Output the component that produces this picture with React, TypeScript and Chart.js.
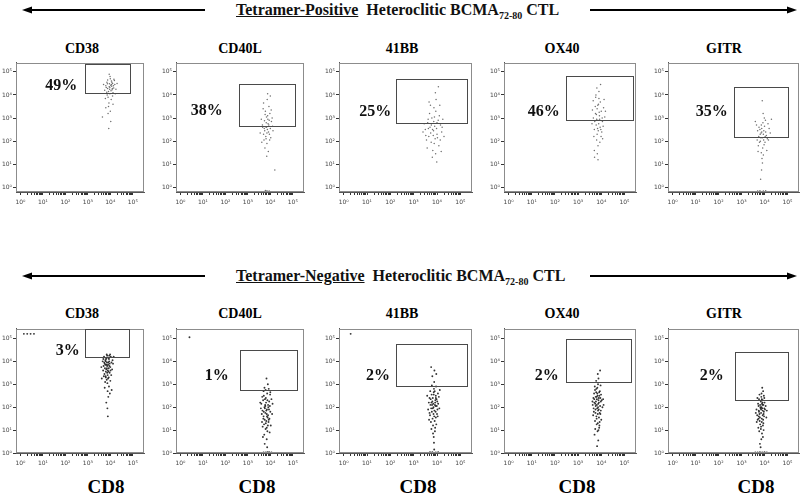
import React, { useEffect, useRef } from 'react';
import { Chart, registerables } from 'chart.js';
Chart.register(...registerables);

// ---- Data ----
const markers = ['CD38', 'CD40L', '41BB', 'OX40', 'GITR'];
const posPercents = ['49%', '38%', '25%', '46%', '35%'];
const negPercents = ['3%', '1%', '2%', '2%', '2%'];
const xAxisLabel = 'CD8';
const decadeTicks = [0, 1, 2, 3, 4, 5];

// gates (log10 units): [x0, x1, y0, y1]
const posGates = [
  [2.87, 4.86, 4.09, 5.35],
  [2.59, 5.11, 2.67, 4.48],
  [2.25, 5.29, 2.8, 4.7],
  [2.47, 5.36, 2.93, 4.83],
  [2.69, 5.0, 2.2, 4.35],
];
const negGates = [
  [2.87, 4.82, 4.2, 5.4],
  [2.63, 5.2, 2.74, 4.48],
  [2.25, 5.29, 2.91, 4.74],
  [2.47, 5.3, 3.09, 4.96],
  [2.73, 5.0, 2.3, 4.39],
];
// percent label positions (log10 units)
const posPctPos = [[1.81, 4.4], [1.17, 3.32], [1.35, 3.28], [1.52, 3.28], [1.7, 3.28]];
const negPctPos = [[2.1, 4.48], [1.61, 3.35], [1.47, 3.35], [1.65, 3.35], [1.7, 3.35]];

// events (log10 CD8, log10 marker)
const posCD38 = [[3.95,4.35],[4.02,4.42],[3.88,4.28],[4.10,4.50],[3.92,4.15],[4.05,4.60],[3.80,4.40],[4.15,4.30],[3.98,4.05],[4.08,4.22],[3.85,4.55],[4.20,4.45],[3.90,3.90],[4.00,4.70],[3.75,4.20],[4.12,4.10],[3.96,4.48],[4.04,3.80],[3.86,4.00],[4.18,4.62],[3.94,3.65],[4.06,4.38],[3.82,4.32],[4.25,4.25],[3.99,4.80],[3.70,4.45],[4.10,3.95],[3.92,3.50],[4.03,4.18],[3.88,4.65],[4.14,4.40],[3.78,3.85],[4.00,3.30],[3.95,4.90],[4.22,4.05],[3.84,4.12],[4.07,4.55],[3.90,3.20],[4.30,4.50],[3.97,4.25],[3.65,3.05],[4.02,2.85],[3.93,2.55],[4.12,3.60],[3.80,3.45],[4.05,4.45],[3.98,4.33],[4.16,4.68],[3.87,4.48],[4.09,4.28]];
const posCD40L = [[3.83,2.60],[3.90,2.75],[3.75,2.45],[3.95,2.90],[3.70,2.30],[3.88,3.10],[3.80,2.20],[4.00,2.55],[3.65,2.70],[3.92,2.40],[3.78,3.30],[4.05,2.85],[3.72,2.05],[3.85,1.90],[3.98,3.20],[3.60,2.95],[3.87,2.50],[4.10,2.65],[3.76,1.70],[3.94,3.50],[3.82,2.80],[3.68,3.40],[4.02,2.15],[3.79,2.62],[3.91,1.55],[3.55,2.35],[3.86,3.80],[4.08,3.00],[3.74,2.88],[3.96,2.30],[3.84,1.35],[3.70,3.65],[4.00,3.95],[3.81,2.10],[3.89,2.95],[3.62,1.95],[4.12,2.45],[3.77,3.15],[3.93,2.70],[3.85,2.35],[3.88,4.05],[4.20,0.75],[3.85,-0.15],[3.95,-0.16],[3.78,-0.14],[3.73,2.55],[3.97,2.05],[3.83,3.05],[4.04,3.35],[3.66,2.60]];
const pos41BB = [[3.85,2.45],[3.70,2.60],[4.00,2.30],[3.60,2.80],[3.92,2.10],[4.15,2.70],[3.50,2.50],[3.78,3.00],[4.05,2.90],[3.88,1.90],[3.65,2.20],[4.20,2.40],[3.95,3.30],[3.45,2.75],[3.82,1.60],[4.10,3.10],[3.72,3.55],[3.98,2.55],[4.25,2.95],[3.55,2.05],[3.90,2.65],[3.80,1.30],[4.08,1.80],[3.68,3.20],[3.96,3.80],[3.40,2.40],[4.30,2.20],[3.86,2.85],[3.75,1.95],[4.02,2.15],[3.62,2.95],[3.93,4.10],[4.12,3.55],[3.58,1.70],[3.84,2.25],[4.18,1.55],[3.76,2.70],[3.99,1.10],[3.66,3.70],[4.06,4.35],[3.89,3.05],[3.52,2.25],[3.81,2.50],[4.22,2.60],[3.94,1.45],[3.73,2.35],[4.00,2.80],[3.87,3.45],[3.63,2.55],[4.14,2.05]];
const posOX40 = [[3.85,2.90],[3.92,3.10],[3.78,2.70],[4.00,3.30],[3.70,2.50],[3.88,3.60],[3.82,2.30],[4.05,2.85],[3.75,3.20],[3.95,2.60],[3.66,3.00],[4.10,3.45],[3.80,2.05],[3.90,3.85],[3.72,2.85],[4.02,2.40],[3.86,1.80],[3.96,3.70],[3.62,3.35],[4.15,3.05],[3.84,2.55],[3.77,4.00],[3.99,2.20],[3.70,1.60],[3.91,3.25],[3.81,4.30],[4.08,2.65],[3.74,3.50],[3.94,1.95],[3.87,2.45],[3.60,2.75],[4.12,3.80],[3.79,3.15],[3.97,4.45],[3.83,1.45],[3.68,2.20],[4.04,3.00],[3.89,2.75],[3.76,3.90],[3.93,2.95],[3.86,1.20],[3.71,1.30],[4.18,3.30],[3.82,3.40],[3.98,2.50],[3.65,3.75],[3.90,4.15],[4.06,2.10],[3.80,2.95],[3.85,3.55]];
const posGITR = [[3.90,2.15],[3.95,2.30],[3.82,2.00],[4.05,2.40],[3.75,2.20],[3.98,1.85],[3.88,2.55],[4.12,2.10],[3.70,2.45],[3.92,1.70],[4.00,2.65],[3.85,2.35],[4.20,2.55],[3.78,1.95],[3.96,2.05],[3.65,2.70],[4.08,2.25],[3.86,1.50],[3.93,2.80],[4.15,2.75],[3.80,2.50],[3.73,1.80],[4.02,1.95],[3.89,1.25],[3.97,2.45],[4.25,2.35],[3.60,2.85],[3.84,2.15],[4.10,1.60],[3.91,1.05],[3.76,2.60],[3.99,3.00],[3.87,0.75],[4.04,2.90],[3.68,2.05],[3.94,3.20],[3.90,3.75],[3.83,0.35],[3.80,-0.15],[3.95,-0.16],[4.05,-0.15],[3.70,-0.16],[4.03,2.20],[3.81,2.30],[3.95,1.40],[4.17,2.05],[3.88,2.40],[3.72,1.55],[4.30,2.95],[3.86,2.70]];

const negCD38 = [[3.85,3.70],[3.90,3.85],[3.80,3.55],[3.95,4.00],[3.75,3.90],[3.88,3.40],[3.92,4.15],[3.82,3.65],[4.00,3.75],[3.70,3.80],[3.86,4.25],[3.93,3.30],[3.78,4.05],[4.05,3.95],[3.84,3.20],[3.89,3.60],[3.74,3.45],[3.97,3.50],[3.81,4.10],[4.02,4.20],[3.87,3.05],[3.76,3.70],[3.91,3.95],[3.66,4.00],[4.08,3.65],[3.83,3.85],[3.94,2.90],[3.79,3.35],[3.99,4.30],[3.72,4.20],[3.86,3.50],[4.10,4.05],[3.90,3.25],[3.77,3.10],[3.96,3.80],[3.84,4.30],[3.68,3.60],[4.04,3.40],[3.88,2.70],[3.80,4.00],[3.93,3.70],[3.73,3.95],[4.00,3.15],[3.85,3.95],[3.95,4.25],[3.62,3.25],[3.91,2.45],[3.82,2.20],[3.98,2.60],[3.75,2.85],[3.87,1.95],[4.06,2.75],[3.89,1.60],[3.78,3.85],[3.92,3.55],[4.12,3.90],[3.83,4.15],[3.71,3.35],[4.01,3.60],[3.86,3.80],[3.94,4.10],[3.80,3.30],[3.97,3.90],[3.69,4.10],[4.15,4.20],[3.60,3.75],[0.15,5.20],[0.30,5.20],[0.45,5.20],[0.60,5.20]];
const negCD40L = [[3.78,1.75],[3.85,1.90],[3.70,1.60],[3.90,2.10],[3.65,1.85],[3.82,1.40],[3.95,2.25],[3.74,2.00],[3.88,1.55],[3.60,2.15],[3.80,2.40],[4.00,1.80],[3.72,1.25],[3.86,2.60],[3.68,2.30],[3.92,1.35],[3.76,1.95],[3.84,1.10],[3.98,2.05],[3.62,1.70],[3.79,2.75],[3.90,1.65],[3.71,2.50],[4.05,2.35],[3.87,0.95],[3.75,1.45],[3.93,2.80],[3.66,1.15],[3.81,2.20],[3.96,1.50],[3.73,0.80],[3.89,3.00],[3.58,1.95],[4.02,1.20],[3.77,2.10],[3.84,0.60],[3.70,2.70],[3.94,1.90],[3.80,1.30],[3.64,2.45],[3.87,2.30],[3.99,2.55],[3.75,0.40],[3.83,3.25],[3.69,1.50],[4.08,1.70],[3.79,1.05],[3.91,2.00],[3.55,2.20],[3.85,1.60],[3.74,2.85],[3.97,0.90],[3.82,1.85],[3.67,0.70],[3.89,1.20],[4.10,2.15],[3.76,2.35],[3.93,1.45],[3.71,1.80],[3.86,0.25],[3.80,0.02],[3.95,0.03],[4.05,0.02],[3.70,0.02],[3.88,0.04],[3.63,1.35],[4.00,2.65],[3.78,2.05],[3.84,1.70],[0.40,5.05]];
const neg41BB = [[3.85,2.00],[3.92,2.20],[3.78,1.80],[3.98,2.35],[3.72,2.10],[3.88,1.60],[3.95,2.50],[3.80,2.25],[4.02,1.90],[3.68,2.40],[3.86,2.65],[3.90,1.40],[3.75,1.95],[4.05,2.15],[3.83,1.20],[3.94,2.05],[3.70,1.65],[3.87,2.80],[4.00,1.70],[3.77,2.55],[3.91,0.95],[3.82,2.40],[3.65,2.20],[4.08,2.45],[3.89,1.85],[3.74,1.35],[3.96,2.90],[3.81,1.50],[3.93,2.30],[3.62,1.90],[3.86,0.70],[4.04,2.60],[3.79,2.10],[3.88,3.10],[3.71,2.70],[3.97,1.25],[3.84,2.15],[4.10,1.95],[3.76,1.05],[3.90,2.70],[3.68,1.75],[3.95,1.55],[3.80,3.35],[3.87,0.45],[4.01,2.25],[3.73,2.35],[3.92,1.10],[3.58,2.50],[3.85,1.70],[4.12,2.75],[3.78,2.95],[3.94,1.80],[3.83,0.85],[3.66,1.45],[3.99,2.05],[3.89,3.60],[3.75,3.75],[3.97,3.45],[3.80,0.03],[3.95,0.02],[3.70,0.04],[4.05,0.03],[3.88,0.15],[3.91,2.10],[3.82,1.95],[3.76,2.20],[3.95,2.40],[3.86,2.55],[4.03,1.60],[0.30,5.20]];
const negOX40 = [[3.81,2.10],[3.88,2.30],[3.75,1.90],[3.92,2.50],[3.70,2.20],[3.85,1.70],[3.95,2.05],[3.78,2.65],[3.90,1.55],[3.66,2.40],[3.83,2.85],[3.98,1.85],[3.73,1.40],[3.87,2.15],[3.80,1.25],[3.94,2.70],[3.68,1.80],[3.86,3.00],[4.02,2.30],[3.76,2.45],[3.91,1.10],[3.82,1.95],[3.63,2.10],[3.97,2.95],[3.79,1.60],[3.89,2.40],[3.72,2.90],[3.84,0.95],[4.05,2.00],[3.77,2.25],[3.93,1.35],[3.69,2.60],[3.86,1.85],[3.99,2.55],[3.74,1.05],[3.88,3.25],[3.81,2.35],[3.65,1.65],[3.96,1.70],[3.79,2.80],[3.90,2.20],[3.71,0.80],[3.85,3.45],[4.08,2.35],[3.76,2.05],[3.92,1.20],[3.83,2.60],[3.67,1.95],[3.95,3.60],[3.80,1.50],[3.87,0.55],[3.74,2.15],[3.98,2.25],[3.82,0.30],[3.89,1.90],[3.70,2.35],[4.00,1.45],[3.84,2.50],[3.78,3.15],[3.93,1.75],[3.62,2.25],[3.86,2.00],[3.91,2.65],[3.75,1.75],[4.10,2.10],[3.80,2.45],[3.88,1.00],[3.73,2.75],[3.96,2.40],[3.85,1.30]];
const negGITR = [[3.85,1.75],[3.90,1.95],[3.80,1.55],[3.95,2.10],[3.75,1.85],[3.88,1.35],[3.92,2.30],[3.82,2.00],[3.98,1.60],[3.72,2.15],[3.86,2.45],[3.93,1.20],[3.78,1.70],[4.02,1.90],[3.84,1.05],[3.91,2.20],[3.70,1.45],[3.87,2.60],[3.97,1.80],[3.76,2.35],[3.89,0.85],[3.83,1.95],[3.68,1.65],[4.05,2.05],[3.88,1.50],[3.74,2.05],[3.94,2.70],[3.81,1.25],[3.92,1.85],[3.65,1.90],[3.86,0.60],[3.99,2.40],[3.79,1.40],[3.90,2.85],[3.73,1.10],[3.96,1.70],[3.84,2.25],[4.08,1.55],[3.77,0.95],[3.91,2.10],[3.69,2.40],[3.95,1.30],[3.80,0.40],[3.87,2.00],[4.00,2.20],[3.75,1.60],[3.93,0.70],[3.62,1.75],[3.85,1.15],[4.10,1.85],[3.78,2.55],[3.94,1.45],[3.83,0.25],[3.66,1.35],[3.99,1.95],[3.89,2.15],[3.76,1.80],[3.97,2.50],[3.70,0.02],[3.80,0.03],[3.90,0.02],[4.00,0.03],[4.10,0.02],[3.60,0.02],[3.85,1.90],[3.92,1.65],[3.81,2.10],[3.88,2.35],[3.74,1.50],[3.96,1.00]];

const posEvents = [posCD38, posCD40L, pos41BB, posOX40, posGITR];
const negEvents = [negCD38, negCD40L, neg41BB, negOX40, negGITR];

// ---- Layout ----
const colLeft = [16, 176, 339, 504, 668];
const colRight = [144, 304, 472, 636, 799];
const titleCenter = [82, 240, 402, 562, 724];
const cd8Center = [106, 257, 418, 577, 756];
const rowTop = [62, 328];
const rowBottom = [192, 453];
const rowYRange = [[-0.2, 5.4], [0, 5.43]];
const X_RANGE = [-0.2, 5.5];
const Y_AXIS_W = 16;
const X_AXIS_H = 16;
const PAD = 4;
const SERIF = '"Liberation Serif", "Times New Roman", serif';
const SUP = ['\u2070', '\u00b9', '\u00b2', '\u00b3', '\u2074', '\u2075'];

const minorTicks: number[] = [];
for (let d = 0; d < 5; d++) {
  for (let k = 1; k <= 9; k++) minorTicks.push(d + Math.log10(k));
}
minorTicks.push(5);

const overlayPlugin = {
  id: 'overlay',
  afterDatasetsDraw(chart: any, _args: any, opts: any) {
    const { ctx, chartArea: a, scales } = chart;
    const x = scales.x;
    const y = scales.y;
    ctx.save();
    ctx.strokeStyle = '#8c8c8c';
    ctx.lineWidth = 1;
    ctx.strokeRect(Math.round(a.left) + 0.5, Math.round(a.top) + 0.5, Math.round(a.right - a.left) - 1, Math.round(a.bottom - a.top) - 1);
    const g = opts.gate;
    const gx0 = Math.round(x.getPixelForValue(g[0])) + 0.5;
    const gx1 = Math.round(x.getPixelForValue(g[1])) + 0.5;
    const gy1 = Math.round(y.getPixelForValue(g[3])) + 0.5;
    const gy0 = Math.round(y.getPixelForValue(g[2])) + 0.5;
    ctx.strokeStyle = '#4a4a4a';
    ctx.strokeRect(gx0, gy1, gx1 - gx0, gy0 - gy1);
    ctx.fillStyle = '#111';
    ctx.font = 'bold 16px ' + SERIF;
    ctx.textAlign = 'center';
    ctx.textBaseline = 'middle';
    ctx.fillText(opts.pct, x.getPixelForValue(opts.pctPos[0]), y.getPixelForValue(opts.pctPos[1]));
    ctx.restore();
  },
};

function Panel(props: { events: number[][]; gate: number[]; pct: string; pctPos: number[]; col: number; row: number }) {
  const ref = useRef<HTMLCanvasElement>(null);
  const { events, gate, pct, pctPos, col, row } = props;
  const left = colLeft[col];
  const right = colRight[col];
  const top = rowTop[row];
  const bottom = rowBottom[row];
  const w = right - left + Y_AXIS_W + PAD;
  const h = bottom - top + X_AXIS_H + PAD;

  useEffect(() => {
    const chart = new Chart(ref.current as HTMLCanvasElement, {
      type: 'scatter',
      data: {
        datasets: [
          {
            data: events.map(([ex, ey]) => ({ x: ex, y: ey })),
            pointRadius: row === 0 ? 0.75 : 0.95,
            pointBorderWidth: 0,
            pointBackgroundColor: row === 0 ? 'rgba(95,95,95,0.9)' : 'rgba(30,30,30,0.9)',
          },
        ],
      },
      options: {
        animation: false,
        responsive: false,
        maintainAspectRatio: false,
        devicePixelRatio: 1,
        layout: { padding: { top: PAD, right: PAD, left: 0, bottom: 0 } },
        plugins: {
          legend: { display: false },
          tooltip: { enabled: false },
          overlay: { gate, pct, pctPos },
        } as any,
        scales: {
          x: {
            type: 'linear',
            min: X_RANGE[0],
            max: X_RANGE[1],
            afterBuildTicks: (s: any) => {
              s.ticks = minorTicks.map((v) => ({ value: v }));
            },
            afterFit: (s: any) => {
              s.height = X_AXIS_H;
            },
            ticks: {
              autoSkip: false,
              maxRotation: 0,
              padding: 4,
              color: '#444',
              font: { size: 6, family: 'DejaVu Sans' },
              callback: (v: any) => (Number.isInteger(v) ? '10' + SUP[v] : ''),
            },
            grid: { drawOnChartArea: false, drawTicks: true, tickLength: 3, color: '#333' },
            border: { color: '#555' },
          },
          y: {
            type: 'linear',
            min: rowYRange[row][0],
            max: rowYRange[row][1],
            afterBuildTicks: (s: any) => {
              s.ticks = decadeTicks.map((v) => ({ value: v }));
            },
            afterFit: (s: any) => {
              s.width = Y_AXIS_W;
            },
            ticks: {
              autoSkip: false,
              padding: 1,
              color: '#444',
              font: { size: 6, family: 'DejaVu Sans' },
              callback: (v: any) => '10' + SUP[v],
            },
            grid: { drawOnChartArea: false, drawTicks: true, tickLength: 3, color: '#333' },
            border: { color: '#555' },
          },
        },
      },
      plugins: [overlayPlugin],
    });
    return () => chart.destroy();
  }, []);

  return (
    <canvas
      ref={ref}
      width={w}
      height={h}
      style={{ position: 'absolute', left: left - Y_AXIS_W, top: top - PAD, width: w, height: h }}
    />
  );
}

function Arrows({ y }: { y: number }) {
  return (
    <g>
      <line x1={30} y1={y} x2={205} y2={y} stroke="#000" strokeWidth={2} />
      <polygon points={`22,${y} 32,${y - 3.5} 32,${y + 3.5}`} fill="#000" />
      <line x1={590} y1={y} x2={788} y2={y} stroke="#000" strokeWidth={2} />
      <polygon points={`797,${y} 787,${y - 3.5} 787,${y + 3.5}`} fill="#000" />
    </g>
  );
}

function Header({ word, top }: { word: string; top: number }) {
  return (
    <div
      style={{
        position: 'absolute',
        left: 236,
        top,
        whiteSpace: 'nowrap',
        fontFamily: SERIF,
        fontWeight: 'bold',
        fontSize: 16,
        lineHeight: '16px',
        color: '#111',
      }}
    >
      <span style={{ textDecoration: 'underline' }}>{word}</span>
      {'\u00a0\u00a0Heteroclitic BCMA'}
      <span style={{ fontSize: 10, verticalAlign: '-0.35em', lineHeight: '10px' }}>72-80</span>
      {' CTL'}
    </div>
  );
}

const titleStyle = (cx: number, top: number): React.CSSProperties => ({
  position: 'absolute',
  left: cx - 50,
  top,
  width: 100,
  textAlign: 'center',
  fontWeight: 'bold',
  fontSize: 14,
  lineHeight: '14px',
});

export default function App() {
  return (
    <div
      style={{
        position: 'absolute',
        left: 0,
        top: 0,
        width: 800,
        height: 496,
        overflow: 'hidden',
        background: '#fff',
        fontFamily: SERIF,
      }}
    >
      <svg width={800} height={496} style={{ position: 'absolute', left: 0, top: 0 }}>
        <Arrows y={10} />
        <Arrows y={276} />
      </svg>
      <Header word="Tetramer-Positive" top={2} />
      <Header word="Tetramer-Negative" top={268} />
      {markers.map((m, i) => (
        <React.Fragment key={m}>
          <div style={titleStyle(titleCenter[i], 42)}>{m}</div>
          <div style={titleStyle(titleCenter[i], 307)}>{m}</div>
          <div
            style={{
              position: 'absolute',
              left: cd8Center[i] - 40,
              top: 477,
              width: 80,
              textAlign: 'center',
              fontWeight: 'bold',
              fontSize: 19,
              lineHeight: '20px',
            }}
          >
            {xAxisLabel}
          </div>
          <Panel events={posEvents[i]} gate={posGates[i]} pct={posPercents[i]} pctPos={posPctPos[i]} col={i} row={0} />
          <Panel events={negEvents[i]} gate={negGates[i]} pct={negPercents[i]} pctPos={negPctPos[i]} col={i} row={1} />
        </React.Fragment>
      ))}
    </div>
  );
}
